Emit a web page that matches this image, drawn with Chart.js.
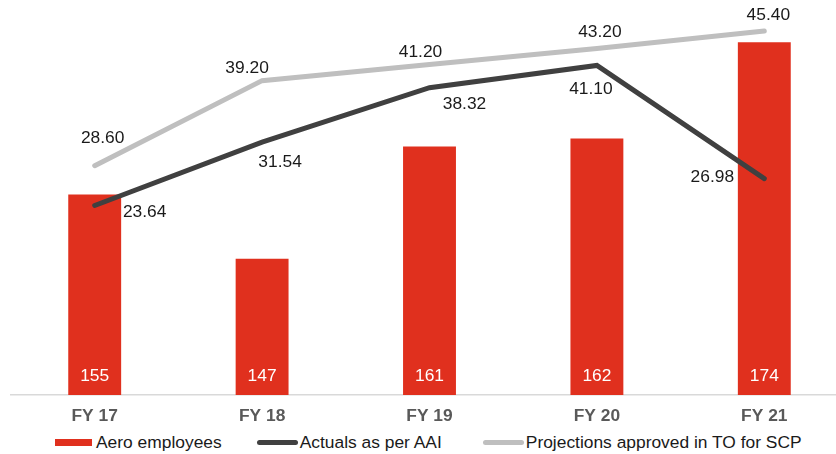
<!DOCTYPE html>
<html lang="en">
<head>
    <meta charset="UTF-8">
    <title>Aero employees vs AAI</title>
    <script src="https://cdn.jsdelivr.net/npm/chart.js"></script>
    <style>
        body {
            margin: 0;
            width: 836px;
            height: 454px;
            overflow: hidden;
            background: #fff;
            position: relative;
            font-family: 'Liberation Sans', Arial, sans-serif;
        }
        .chart {
            position: absolute;
            left: 0;
            top: -6px;
            width: 850px;
            height: 436px;
        }
        #legend {
            position: absolute;
            left: 55px;
            top: 432px;
            display: flex;
            align-items: center;
            font-size: 17.4px;
            color: #1a1a1a;
            white-space: nowrap;
        }
        .item { display: flex; align-items: center; }
    </style>
</head>
<body>
    <div class="chart">
        <canvas id="comboChart"></canvas>
    </div>
    <div id="legend"></div>
    <script>
        // Datos
        const years = ['FY 17', 'FY 18', 'FY 19', 'FY 20', 'FY 21'];
        const aeroEmployees = [155, 147, 161, 162, 174];
        const actualsAAI = [23.64, 31.54, 38.32, 41.10, 26.98];
        const projectionsSCP = [28.60, 39.20, 41.20, 43.20, 45.40];

        const FONT = "'Liberation Sans', Arial, sans-serif";

        // Posicion de las etiquetas de las lineas respecto a cada punto (dx, dy)
        const labelOffsets = {
            1: [[50, 7], [18, 20], [35, 17], [-6, 24], [-52, -1]],
            2: [[8, -27], [-15, -12], [-9, -12], [3, -16], [4, -16]]
        };

        // Plugin para dibujar los valores
        const valueLabels = {
            id: 'valueLabels',
            afterDatasetsDraw(chart) {
                const ctx = chart.ctx;
                const bottom = chart.chartArea.bottom;
                ctx.save();
                ctx.font = '17.4px ' + FONT;
                ctx.textAlign = 'center';
                ctx.textBaseline = 'middle';

                // barras: valor en blanco abajo
                const barMeta = chart.getDatasetMeta(0);
                barMeta.data.forEach((bar, i) => {
                    ctx.fillStyle = '#ffffff';
                    ctx.fillText(String(chart.data.datasets[0].data[i]), bar.x, bottom - 19);
                });

                // lineas
                [1, 2].forEach(d => {
                    const meta = chart.getDatasetMeta(d);
                    meta.data.forEach((pt, i) => {
                        const off = labelOffsets[d][i];
                        ctx.fillStyle = '#1a1a1a';
                        ctx.fillText(chart.data.datasets[d].data[i].toFixed(2), pt.x + off[0], pt.y + off[1]);
                    });
                });
                ctx.restore();
            }
        };

        const ctx = document.getElementById('comboChart').getContext('2d');
        const chart = new Chart(ctx, {
            type: 'bar',
            data: {
                labels: years,
                datasets: [
                    {
                        type: 'bar',
                        label: 'Aero employees',
                        data: aeroEmployees,
                        backgroundColor: '#e0301e',
                        categoryPercentage: 1,
                        barPercentage: 0.316,
                        yAxisID: 'y',
                        order: 3
                    },
                    {
                        type: 'line',
                        label: 'Actuals as per AAI',
                        data: actualsAAI,
                        borderColor: '#404040',
                        backgroundColor: '#404040',
                        borderWidth: 5,
                        borderCapStyle: 'round',
                        pointRadius: 0,
                        tension: 0,
                        yAxisID: 'y2',
                        order: 1
                    },
                    {
                        type: 'line',
                        label: 'Projections approved in TO for SCP',
                        data: projectionsSCP,
                        borderColor: '#bfbfbf',
                        backgroundColor: '#bfbfbf',
                        borderWidth: 5,
                        borderCapStyle: 'round',
                        pointRadius: 0,
                        tension: 0,
                        yAxisID: 'y2',
                        order: 2
                    }
                ]
            },
            options: {
                responsive: true,
                maintainAspectRatio: false,
                animation: false,
                layout: { padding: { left: 11, right: 2, top: 0, bottom: 0 } },
                plugins: {
                    legend: { display: false },
                    tooltip: { enabled: false }
                },
                scales: {
                    x: {
                        grid: { display: false },
                        border: { display: true, color: '#d9d9d9', width: 1.5 },
                        ticks: {
                            padding: 3,
                            color: '#595959',
                            font: { family: FONT, size: 17.4, weight: 'bold' }
                        }
                    },
                    y: {
                        display: false,
                        min: 130,
                        max: 180
                    },
                    y2: {
                        display: false,
                        min: 0,
                        max: 50
                    }
                }
            },
            plugins: [valueLabels]
        });

        // Leyenda
        const legend = document.getElementById('legend');
        const gaps = [0, 35, 41];
        chart.data.datasets.forEach((ds, i) => {
            const item = document.createElement('div');
            item.className = 'item';
            item.style.marginLeft = gaps[i] + 'px';
            const sw = document.createElement('span');
            if (ds.type === 'bar') {
                sw.style.cssText = 'display:inline-block;width:37px;height:7px;margin-right:4px;background:' + ds.backgroundColor;
            } else {
                sw.style.cssText = 'display:inline-block;width:41px;height:5px;border-radius:3px;margin-right:2px;background:' + ds.borderColor;
            }
            const txt = document.createElement('span');
            txt.textContent = ds.label;
            item.appendChild(sw);
            item.appendChild(txt);
            legend.appendChild(item);
        });
    </script>
</body>
</html>
